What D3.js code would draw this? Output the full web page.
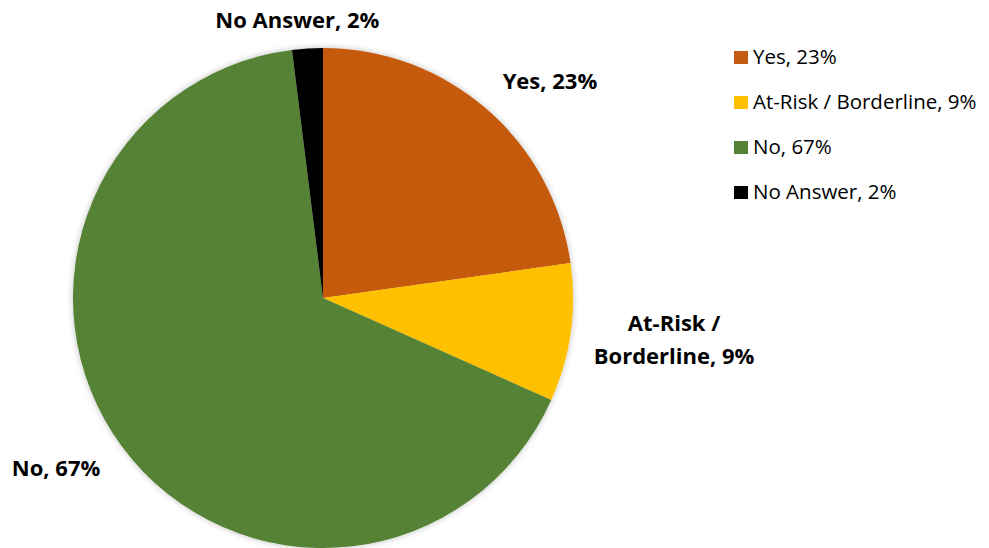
<!DOCTYPE html>
<html>
<head>
<meta charset="utf-8">
<script src="https://cdn.jsdelivr.net/npm/d3@7"></script>
<style>
  html, body { margin: 0; padding: 0; background: #fff; }
  svg { display: block; font-family: "Open Sans", Lato, sans-serif; }
</style>
</head>
<body>
<svg id="chart" width="989" height="548"></svg>
<script>
// Survey answers and their shares (percent)
const categories = ["Yes", "At-Risk / Borderline", "No", "No Answer"];
const values = [23, 9, 67, 2];
const colors = ["#C55A11", "#FFC000", "#548235", "#000000"];

// Data label text, split into lines
const labelLines = [["Yes, 23%"], ["At-Risk /", "Borderline, 9%"], ["No, 67%"], ["No Answer, 2%"]];

const svg = d3.select("#chart");
const cx = 323, cy = 298, radius = 250;

const defs = svg.append("defs");
const f = defs.append("filter").attr("id", "shadow")
  .attr("x", "-10%").attr("y", "-10%").attr("width", "120%").attr("height", "120%");
f.append("feDropShadow").attr("dx", 0).attr("dy", 0).attr("stdDeviation", 3)
  .attr("flood-color", "#000").attr("flood-opacity", 0.25);

const data = categories.map((c, i) => ({ name: c, value: values[i], color: colors[i], lines: labelLines[i] }));

const pie = d3.pie().value(d => d.value).sort(null);
const arcs = pie(data);
const arc = d3.arc().innerRadius(0).outerRadius(radius);

const g = svg.append("g").attr("transform", `translate(${cx},${cy})`);
g.append("g").attr("filter", "url(#shadow)")
  .selectAll("path").data(arcs).join("path")
  .attr("d", arc)
  .attr("fill", d => d.data.color);

// Data labels outside the pie: radius factor and small angular nudge per slice
const labelRadius = [1.256, 1.414, 1.265, 1.117];
const labelNudge = [5.3, -1.3, 4.1, -1.7]; // degrees
const labelG = svg.append("g");
arcs.forEach((a, i) => {
  const mid = (a.startAngle + a.endAngle) / 2 + labelNudge[i] * Math.PI / 180;
  const r = radius * labelRadius[i];
  const x = cx + Math.sin(mid) * r;
  const y = cy - Math.cos(mid) * r;
  const lines = a.data.lines;
  const lh = 33;
  const t = labelG.append("text")
    .attr("text-anchor", "middle")
    .attr("font-weight", "bold")
    .attr("font-size", 22)
    .attr("fill", "#000");
  lines.forEach((ln, j) => {
    t.append("tspan").attr("x", x).attr("y", y + (j - (lines.length - 1) / 2) * lh + 8).text(ln);
  });
});

// Legend
const legend = svg.append("g").attr("transform", "translate(734,64)");
const rowH = 45;
data.forEach((d, i) => {
  const row = legend.append("g").attr("transform", `translate(0,${i * rowH})`);
  row.append("rect").attr("x", 0).attr("y", -13).attr("width", 14).attr("height", 13).attr("fill", d.color);
  row.append("text").attr("x", 19).attr("y", 0)
    .attr("font-size", 20.5).attr("fill", "#000")
    .text(`${d.name}, ${d.value}%`);
});
</script>
</body>
</html>
